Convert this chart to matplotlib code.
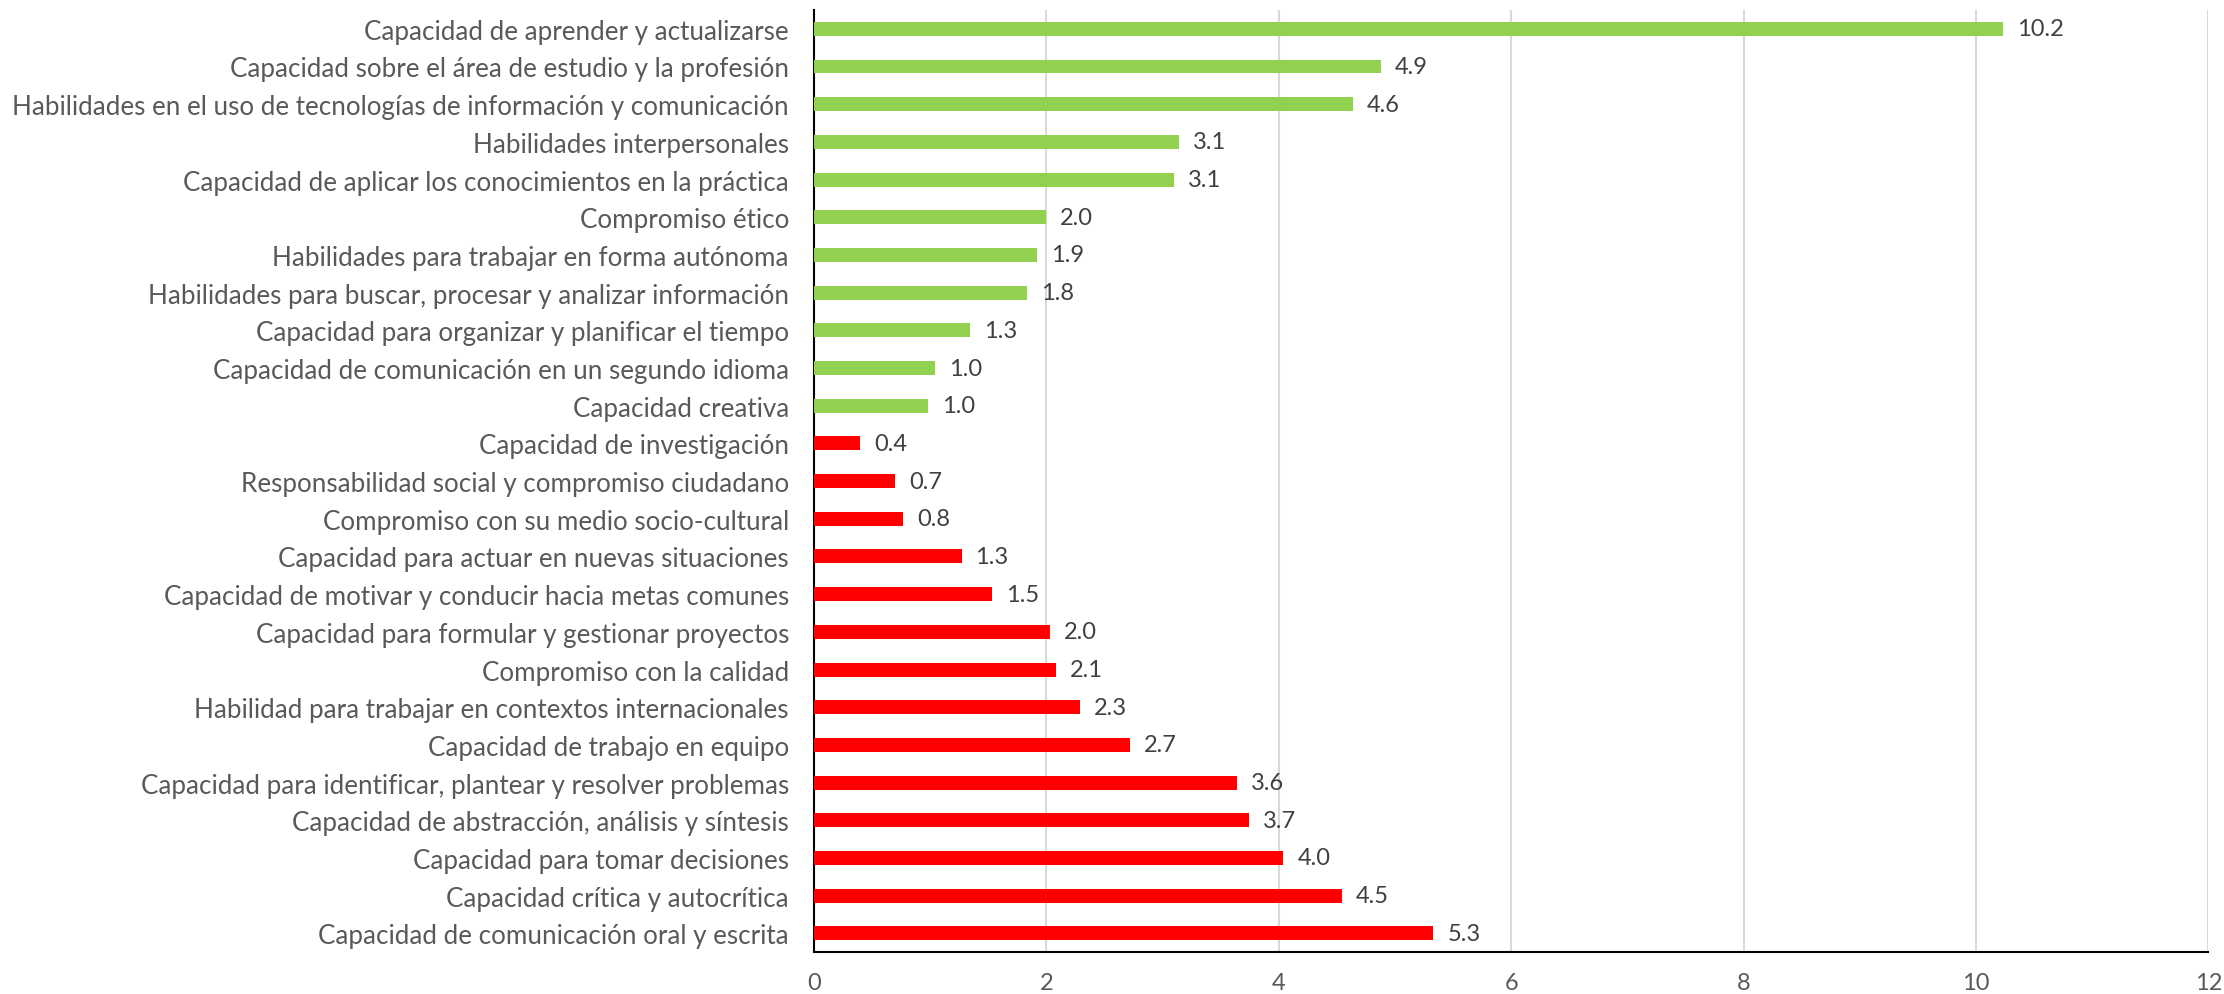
import matplotlib
matplotlib.use("Agg")
from matplotlib import pyplot as plt

# competencias, de arriba hacia abajo
labels_green = [
    "Capacidad de aprender y actualizarse",
    "Capacidad sobre el área de estudio y la profesión",
    "Habilidades en el uso de tecnologías de información y comunicación",
    "Habilidades interpersonales",
    "Capacidad de aplicar los conocimientos en la práctica",
    "Compromiso ético",
    "Habilidades para trabajar en forma autónoma",
    "Habilidades para buscar, procesar y analizar información",
    "Capacidad para organizar y planificar el tiempo",
    "Capacidad de comunicación en un segundo idioma",
    "Capacidad creativa",
]
values_green = [10.23, 4.88, 4.64, 3.14, 3.10, 2.00, 1.92, 1.83, 1.34, 1.04, 0.98]

labels_red = [
    "Capacidad de investigación",
    "Responsabilidad social y compromiso ciudadano",
    "Compromiso con su medio socio-cultural",
    "Capacidad para actuar en nuevas situaciones",
    "Capacidad de motivar y conducir hacia metas comunes",
    "Capacidad para formular y gestionar proyectos",
    "Compromiso con la calidad",
    "Habilidad para trabajar en contextos internacionales",
    "Capacidad de trabajo en equipo",
    "Capacidad para identificar, plantear y resolver problemas",
    "Capacidad de abstracción, análisis y síntesis",
    "Capacidad para tomar decisiones",
    "Capacidad crítica y autocrítica",
    "Capacidad de comunicación oral y escrita",
]
values_red = [0.40, 0.70, 0.77, 1.27, 1.53, 2.03, 2.08, 2.29, 2.72, 3.64, 3.74, 4.04, 4.54, 5.33]

plt.rcParams['font.family'] = ['Lato', 'DejaVu Sans']

f = plt.figure(figsize=(22.24, 9.95), dpi=100)
ax1 = f.add_axes([0.366, 0.042, 0.627, 0.947])

labels = labels_green + labels_red
values = values_green + values_red
colors = ['#92D050'] * len(values_green) + ['#FF0000'] * len(values_red)
pos = list(range(len(labels)))

bars = ax1.barh(pos, values, height=0.37, color=colors, zorder=3)
ax1.bar_label(bars, labels=['%.1f' % v for v in values], padding=10,
              fontsize=17, color='#404040')

ax1.set_ylim(len(labels) - 0.5, -0.5)
ax1.set_xlim(0, 12)
ax1.set_xticks(range(0, 13, 2))
ax1.set_yticks(pos)
ax1.set_yticklabels(labels)
ax1.tick_params(axis='y', length=0, pad=18, labelsize=18.7, labelcolor='#595959')
ax1.tick_params(axis='x', length=0, pad=14, labelsize=17, labelcolor='#595959')

ax1.xaxis.grid(True, color='#D9D9D9', linewidth=1.5, zorder=0)
for s in ['top', 'right']:
    ax1.spines[s].set_visible(False)
ax1.spines['left'].set_color('black')
ax1.spines['left'].set_linewidth(1.5)
ax1.spines['bottom'].set_color('black')
ax1.spines['bottom'].set_linewidth(1.5)

f.savefig('out.png', dpi=100)
